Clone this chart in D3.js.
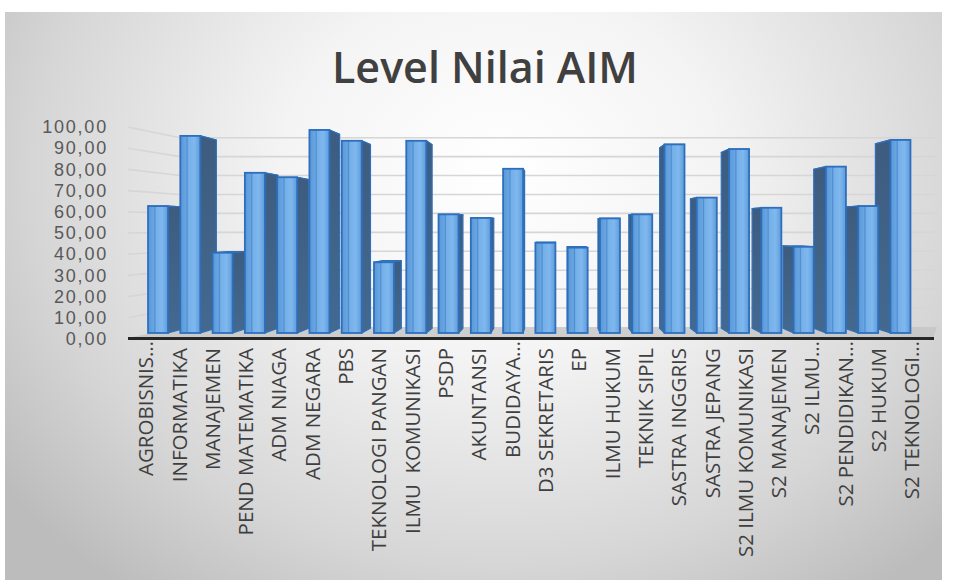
<!DOCTYPE html>
<html>
<head>
<meta charset="utf-8">
<script src="https://cdn.jsdelivr.net/npm/d3@7"></script>
<style>
  html, body { margin: 0; padding: 0; background: #ffffff; }
  svg { display: block; }
</style>
</head>
<body>
<svg id="chart" width="956" height="580"></svg>
<script>
// ---------------- DATA ----------------
const title = "Level Nilai AIM";
const categories = [
  "AGROBISNIS…", "INFORMATIKA", "MANAJEMEN", "PEND MATEMATIKA", "ADM NIAGA",
  "ADM NEGARA", "PBS", "TEKNOLOGI PANGAN", "ILMU  KOMUNIKASI", "PSDP",
  "AKUNTANSI", "BUDIDAYA…", "D3 SEKRETARIS", "EP", "ILMU HUKUM",
  "TEKNIK SIPIL", "SASTRA INGGRIS", "SASTRA JEPANG", "S2 ILMU KOMUNIKASI", "S2 MANAJEMEN",
  "S2 ILMU…", "S2 PENDIDIKAN…", "S2 HUKUM", "S2 TEKNOLOGI…"
];
const values = [
  62.7, 95.8, 40.7, 78.4, 76.3,
  98.6, 93.5, 36.2, 93.5, 58.8,
  57.1, 80.3, 45.4, 43.1, 56.9,
  58.8, 91.8, 66.7, 89.6, 61.9,
  43.5, 81.3, 62.7, 93.9
];
const yTicks = [0, 10, 20, 30, 40, 50, 60, 70, 80, 90, 100];

// ---------------- LAYOUT ----------------
const svg = d3.select("#chart");
const frame = {x: 5, y: 12, w: 937, h: 568};

const defs = svg.append("defs");
const bg = defs.append("radialGradient").attr("id", "bgGrad")
  .attr("gradientUnits", "userSpaceOnUse")
  .attr("cx", 500).attr("cy", 170).attr("r", 620)
  .attr("gradientTransform", "translate(500,170) scale(1,0.85) translate(-500,-170)");
bg.append("stop").attr("offset", "0%").attr("stop-color", "#ffffff");
bg.append("stop").attr("offset", "35%").attr("stop-color", "#f4f4f4");
bg.append("stop").attr("offset", "75%").attr("stop-color", "#d6d6d6");
bg.append("stop").attr("offset", "100%").attr("stop-color", "#bcbcbc");

const fg = defs.append("linearGradient").attr("id", "frontGrad")
  .attr("x1", "0%").attr("x2", "100%").attr("y1", "0%").attr("y2", "0%");
[["0%", "#5a97d6"], ["28%", "#68a5e2"], ["34%", "#4f8dcf"], ["40%", "#74afe9"],
 ["70%", "#7fb8ee"], ["100%", "#5e9bd9"]].forEach(([o, c]) =>
  fg.append("stop").attr("offset", o).attr("stop-color", c));

const sg = defs.append("linearGradient").attr("id", "sideGrad")
  .attr("x1", "0%").attr("x2", "0%").attr("y1", "0%").attr("y2", "100%");
sg.append("stop").attr("offset", "0%").attr("stop-color", "#3d5c7f");
sg.append("stop").attr("offset", "100%").attr("stop-color", "#44698f");

svg.append("rect").attr("x", frame.x).attr("y", frame.y)
  .attr("width", frame.w).attr("height", frame.h)
  .attr("fill", "url(#bgGrad)");

// scales: y is the value axis in the front (label) plane
const y = d3.scaleLinear().domain([0, 100]).range([339, 127]);
// back wall value positions
const yBack = d3.scaleLinear().domain([0, 100]).range([327, 137.7]);
const x = d3.scaleBand().domain(categories).range([141.9, 916.6])
  .paddingInner(0.38).paddingOuter(0.19);

// perspective for bar depth
const VP = {x: 556, y: 227};
const KD = 0.045;
const back = (px, py) => [px + (VP.x - px) * KD, py + (VP.y - py) * KD];
const floorFront = y(0) - 6;

// walls: gridlines
const wallLeftBack = 180, wallRightBack = 937, wallLeftFront = 128;
const grid = svg.append("g");
yTicks.filter(t => t > 0).forEach(t => {
  grid.append("line")
    .attr("x1", wallLeftFront).attr("y1", y(t))
    .attr("x2", wallLeftBack).attr("y2", yBack(t))
    .attr("stroke", "#d6d6d6").attr("stroke-width", 1.6);
  grid.append("line")
    .attr("x1", wallLeftBack).attr("y1", yBack(t))
    .attr("x2", wallRightBack).attr("y2", yBack(t))
    .attr("stroke", "#d6d6d6").attr("stroke-width", 1.6);
});

// floor
svg.append("polygon")
  .attr("points", [[wallLeftFront, y(0) - 1], [933, y(0) - 1], [wallRightBack, yBack(0)], [wallLeftBack, yBack(0)]].map(p => p.join(",")).join(" "))
  .attr("fill", "#c4c4c4").attr("opacity", 0.8);

// bars
const bars = categories.map((c, i) => {
  const x1 = x(c), x2 = x(c) + x.bandwidth();
  const yt = y(values[i]), yb = floorFront;
  return {c, v: values[i], x1, x2, yt, yb};
});

const gBars = svg.append("g");
const poly = pts => pts.map(p => p.join(",")).join(" ");

// top faces
bars.forEach(b => {
  const p1 = [b.x1, b.yt], p2 = [b.x2, b.yt];
  gBars.append("polygon")
    .attr("points", poly([p1, p2, back(...p2), back(...p1)]))
    .attr("fill", "#5a97d6").attr("stroke", "#2e70bc").attr("stroke-width", 1.2)
    .attr("stroke-linejoin", "round");
});
// side faces
bars.forEach(b => {
  const cx = (b.x1 + b.x2) / 2;
  const ex = cx < VP.x ? b.x2 : b.x1;
  const t = [ex, b.yt], bt = [ex, b.yb];
  gBars.append("polygon")
    .attr("points", poly([t, back(...t), back(...bt), bt]))
    .attr("fill", "url(#sideGrad)").attr("stroke", "#2e70bc").attr("stroke-width", 1.2)
    .attr("stroke-linejoin", "round");
});
// front faces
bars.forEach(b => {
  gBars.append("rect")
    .attr("x", b.x1).attr("y", b.yt)
    .attr("width", b.x2 - b.x1).attr("height", b.yb - b.yt)
    .attr("fill", "url(#frontGrad)")
    .attr("stroke", "#2d6fbd").attr("stroke-width", 1.8);
});

// category axis line
svg.append("line")
  .attr("x1", wallLeftFront).attr("x2", 934)
  .attr("y1", y(0) - 0.5).attr("y2", y(0) - 0.5)
  .attr("stroke", "#262626").attr("stroke-width", 3);

// value axis (labels only)
const fmt = d3.formatLocale({decimal: ",", thousands: ".", grouping: [3], currency: ["", ""]}).format(".2f");
const yAxis = svg.append("g")
  .attr("transform", "translate(108,0)")
  .call(d3.axisLeft(y).tickValues(yTicks).tickFormat(fmt).tickSize(0).tickPadding(0));
yAxis.select(".domain").remove();
yAxis.selectAll("text")
  .attr("font-family", "'Liberation Sans', Arial, sans-serif")
  .attr("font-size", 18).attr("letter-spacing", "1.8px")
  .attr("fill", "#595959");

// category labels (rotated)
const gLab = svg.append("g");
categories.forEach(c => {
  const xc = x(c) + x.bandwidth() / 2;
  const xl = xc + (xc - 540) * 0.032;
  const yl = c.endsWith("…") ? 341 : 348;
  gLab.append("text")
    .attr("transform", `translate(${xl},${yl}) rotate(-90)`)
    .attr("text-anchor", "end").attr("dy", "0.36em")
    .attr("font-family", "'Open Sans', sans-serif")
    .attr("font-size", 20.5).attr("fill", "#3f3f3f")
    .style("white-space", "pre")
    .text(c);
});

// title
svg.append("text")
  .attr("x", 485).attr("y", 83)
  .attr("text-anchor", "middle")
  .attr("font-family", "'Open Sans', sans-serif")
  .attr("font-weight", 600).attr("font-size", 43)
  .attr("fill", "#404040")
  .text(title);
</script>
</body>
</html>
